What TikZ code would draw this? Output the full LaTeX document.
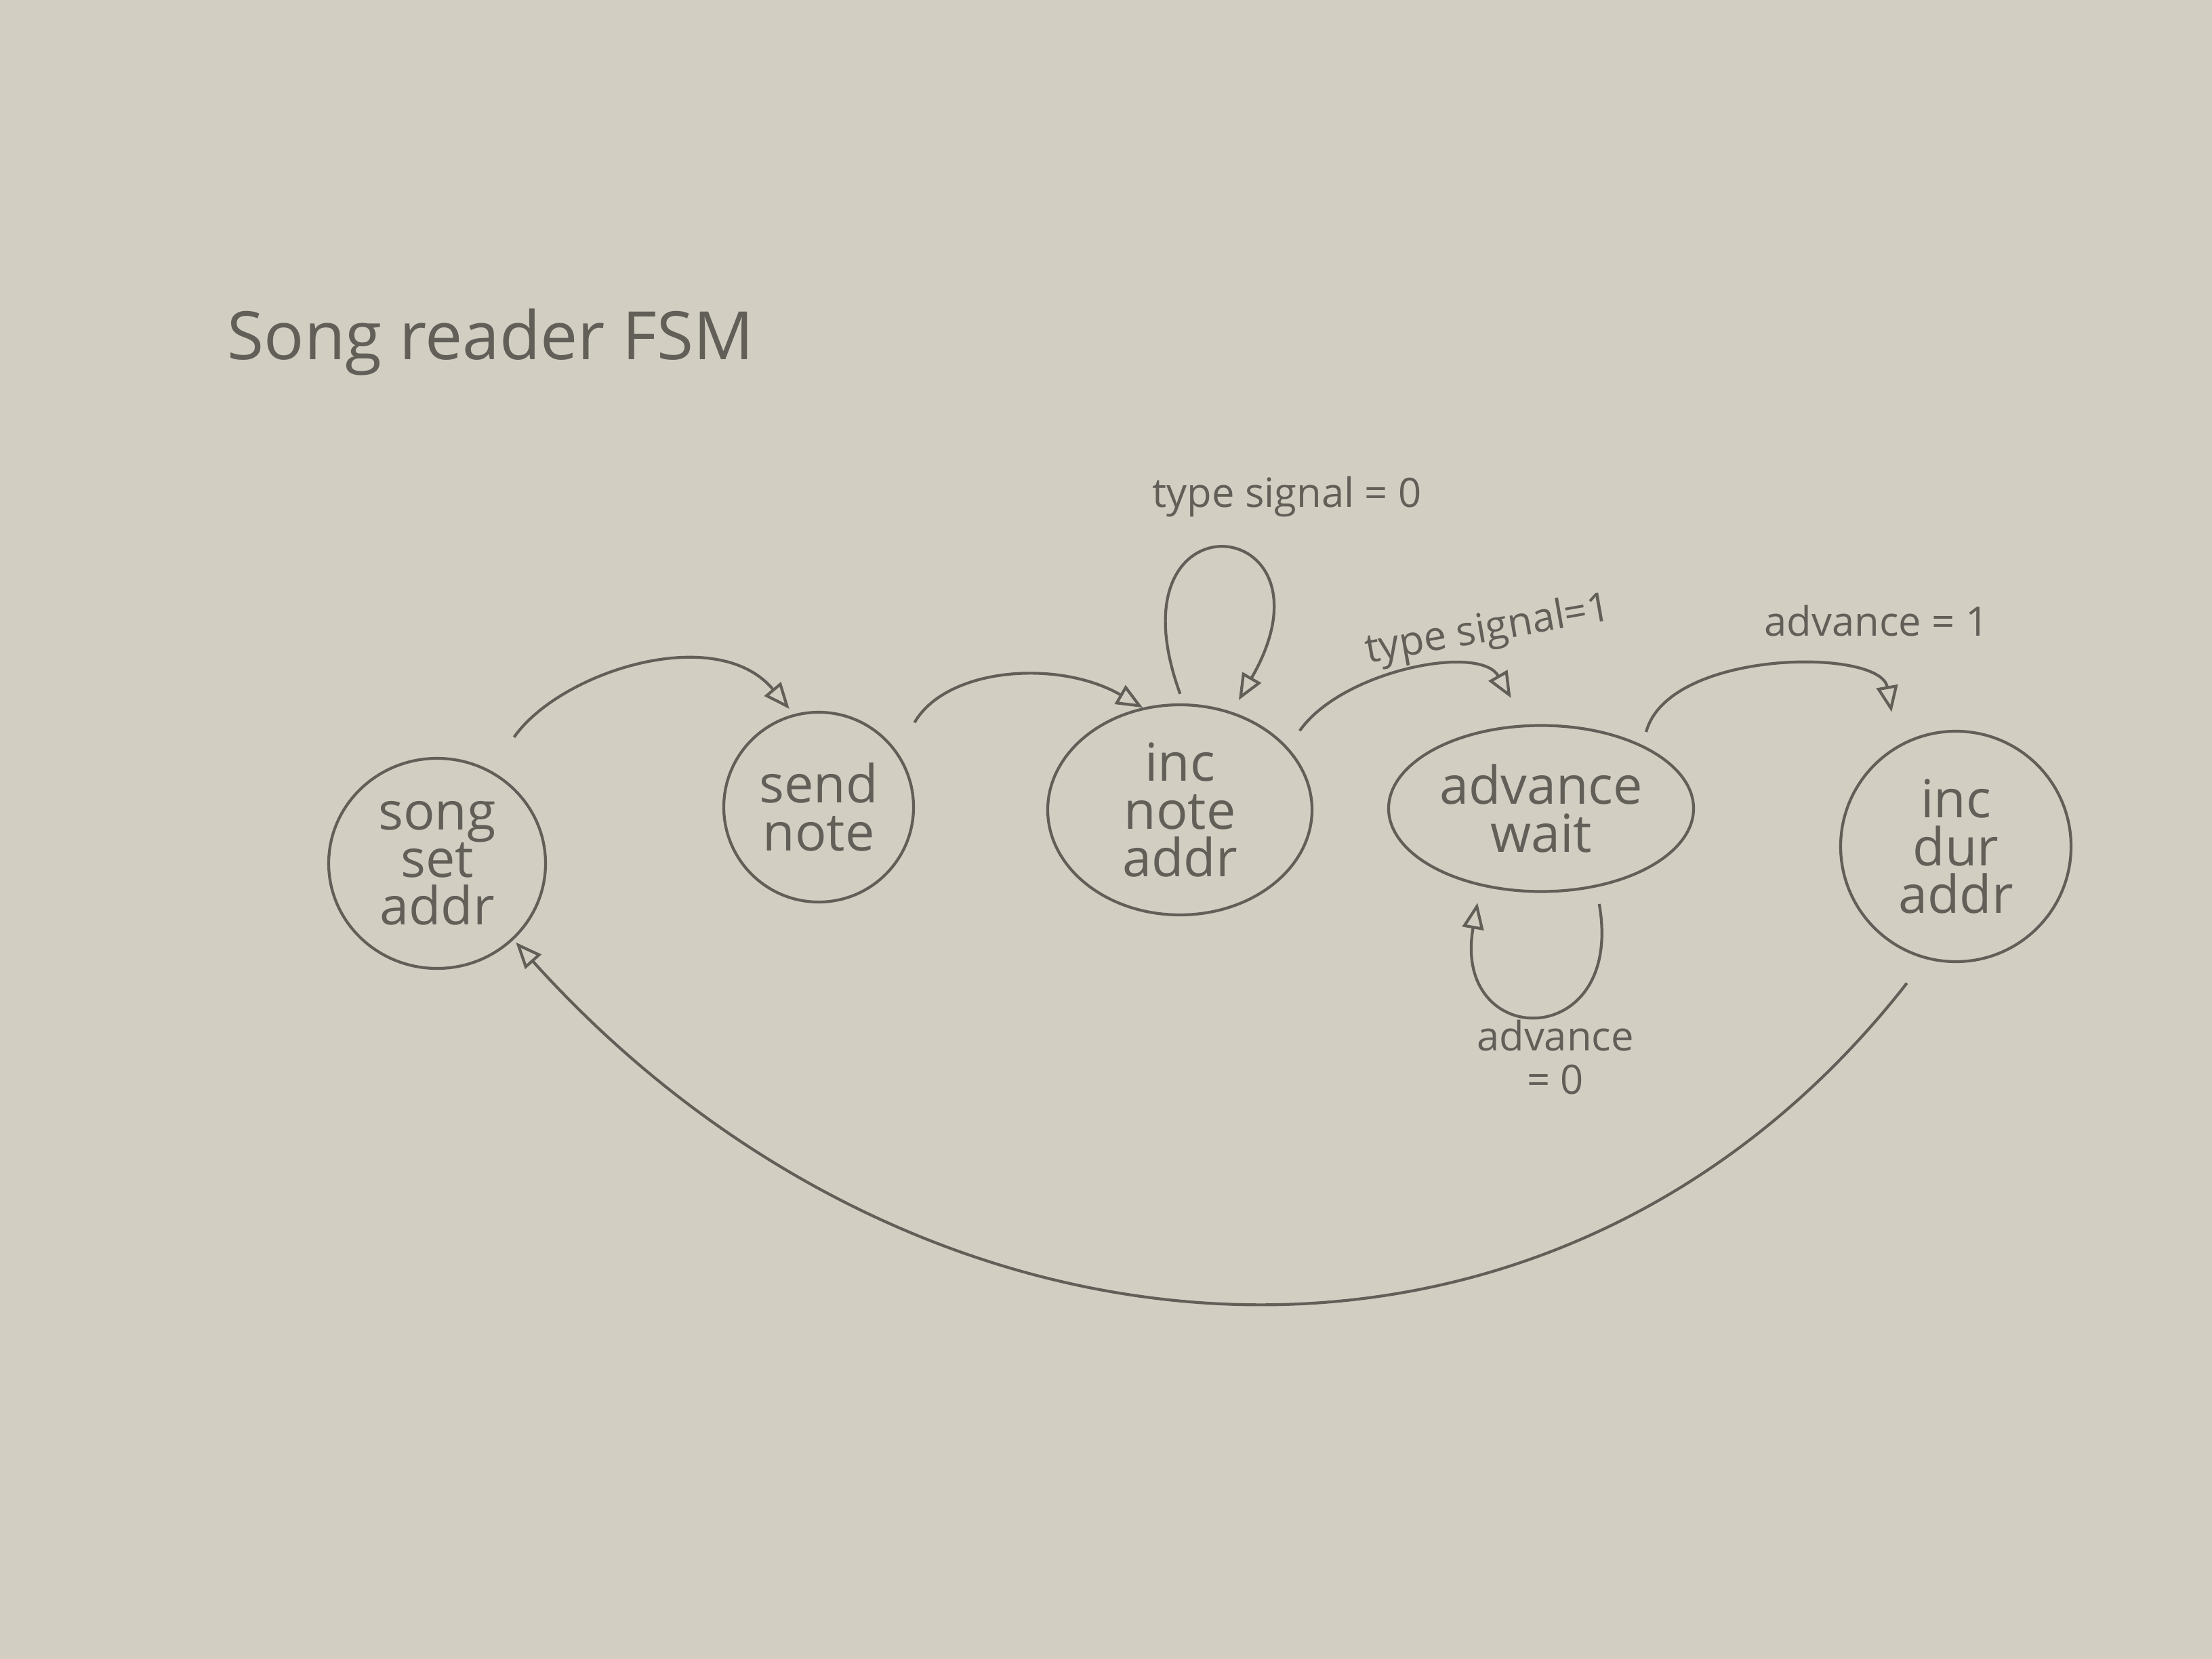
\documentclass[tikz,border=0pt]{standalone}
\usepackage{fontspec}
\setmainfont{Open Sans}
\usetikzlibrary{shapes.geometric,arrows.meta}
\definecolor{paper}{RGB}{210,207,194}
\definecolor{pencil}{RGB}{98,94,88}
\tikzset{
  state/.style={draw=pencil, ellipse, line width=1.2pt, inner sep=0pt, align=center,
    text=pencil, font=\fontsize{22}{20}\selectfont},
  trans/.style={draw=pencil, line width=1.2pt, -{Triangle[open,length=11pt,width=9pt]}},
  cond/.style={text=pencil, align=center, font=\fontsize{17}{18}\selectfont}
}
\begin{document}
\begin{tikzpicture}
\fill[paper] (0,0) rectangle (32.64,-24.48);
\useasboundingbox (0,0) rectangle (32.64,-24.48);

\node[text=pencil, font=\fontsize{28}{30}\selectfont] (title) at (7.24,-5.05) {Song reader FSM};

\node[state, minimum width=3.2cm, minimum height=3.1cm] (setaddr) at (6.45,-12.74) {song\\set\\addr};
\node[state, minimum width=2.8cm, minimum height=2.8cm] (sendnote) at (12.08,-11.91) {send\\note};
\node[state, minimum width=3.9cm, minimum height=3.1cm] (incnote) at (17.41,-11.95) {inc\\note\\addr};
\node[state, minimum width=4.5cm, minimum height=2.45cm] (advwait) at (22.74,-11.93) {advance\\wait};
\node[state, minimum width=3.4cm, minimum height=3.4cm] (incdur) at (28.86,-12.49) {inc\\dur\\addr};

\draw[trans, shorten <=0.6cm, shorten >=0.1cm] (setaddr.60) to[out=55,in=130] (sendnote.105);
\draw[trans, shorten <=0.5cm] (sendnote.35) to[out=60,in=150] (incnote.110);
\draw[trans, shorten <=0.15cm, shorten >=0.2cm] (incnote.88) to[out=110,in=60,looseness=12] (incnote.62);
\draw[trans, shorten <=0.3cm, shorten >=0.45cm] (incnote.30) to[out=55,in=120] (advwait.100);
\draw[trans, shorten <=0.2cm, shorten >=0.5cm] (advwait.32) to[out=75,in=100] (incdur.120);
\draw[trans, shorten <=0.25cm, shorten >=0.25cm] (advwait.-55) to[out=-80,in=-100,looseness=3.7] (advwait.-128);
\draw[trans, shorten <=0.45cm, shorten >=0.05cm] (incdur.-105) to[out=-128,in=-48,looseness=1.1] (setaddr.-45);

\node[cond] (loopnote) at (18.99,-7.33) {type signal = 0};
\node[cond, rotate=10] (noteadv) at (21.96,-9.31) {type signal=1};
\node[cond] (advdur) at (27.69,-9.16) {advance = 1};
\node[cond] (loopwait) at (22.95,-15.6) {advance\\= 0};
\end{tikzpicture}
\end{document}
